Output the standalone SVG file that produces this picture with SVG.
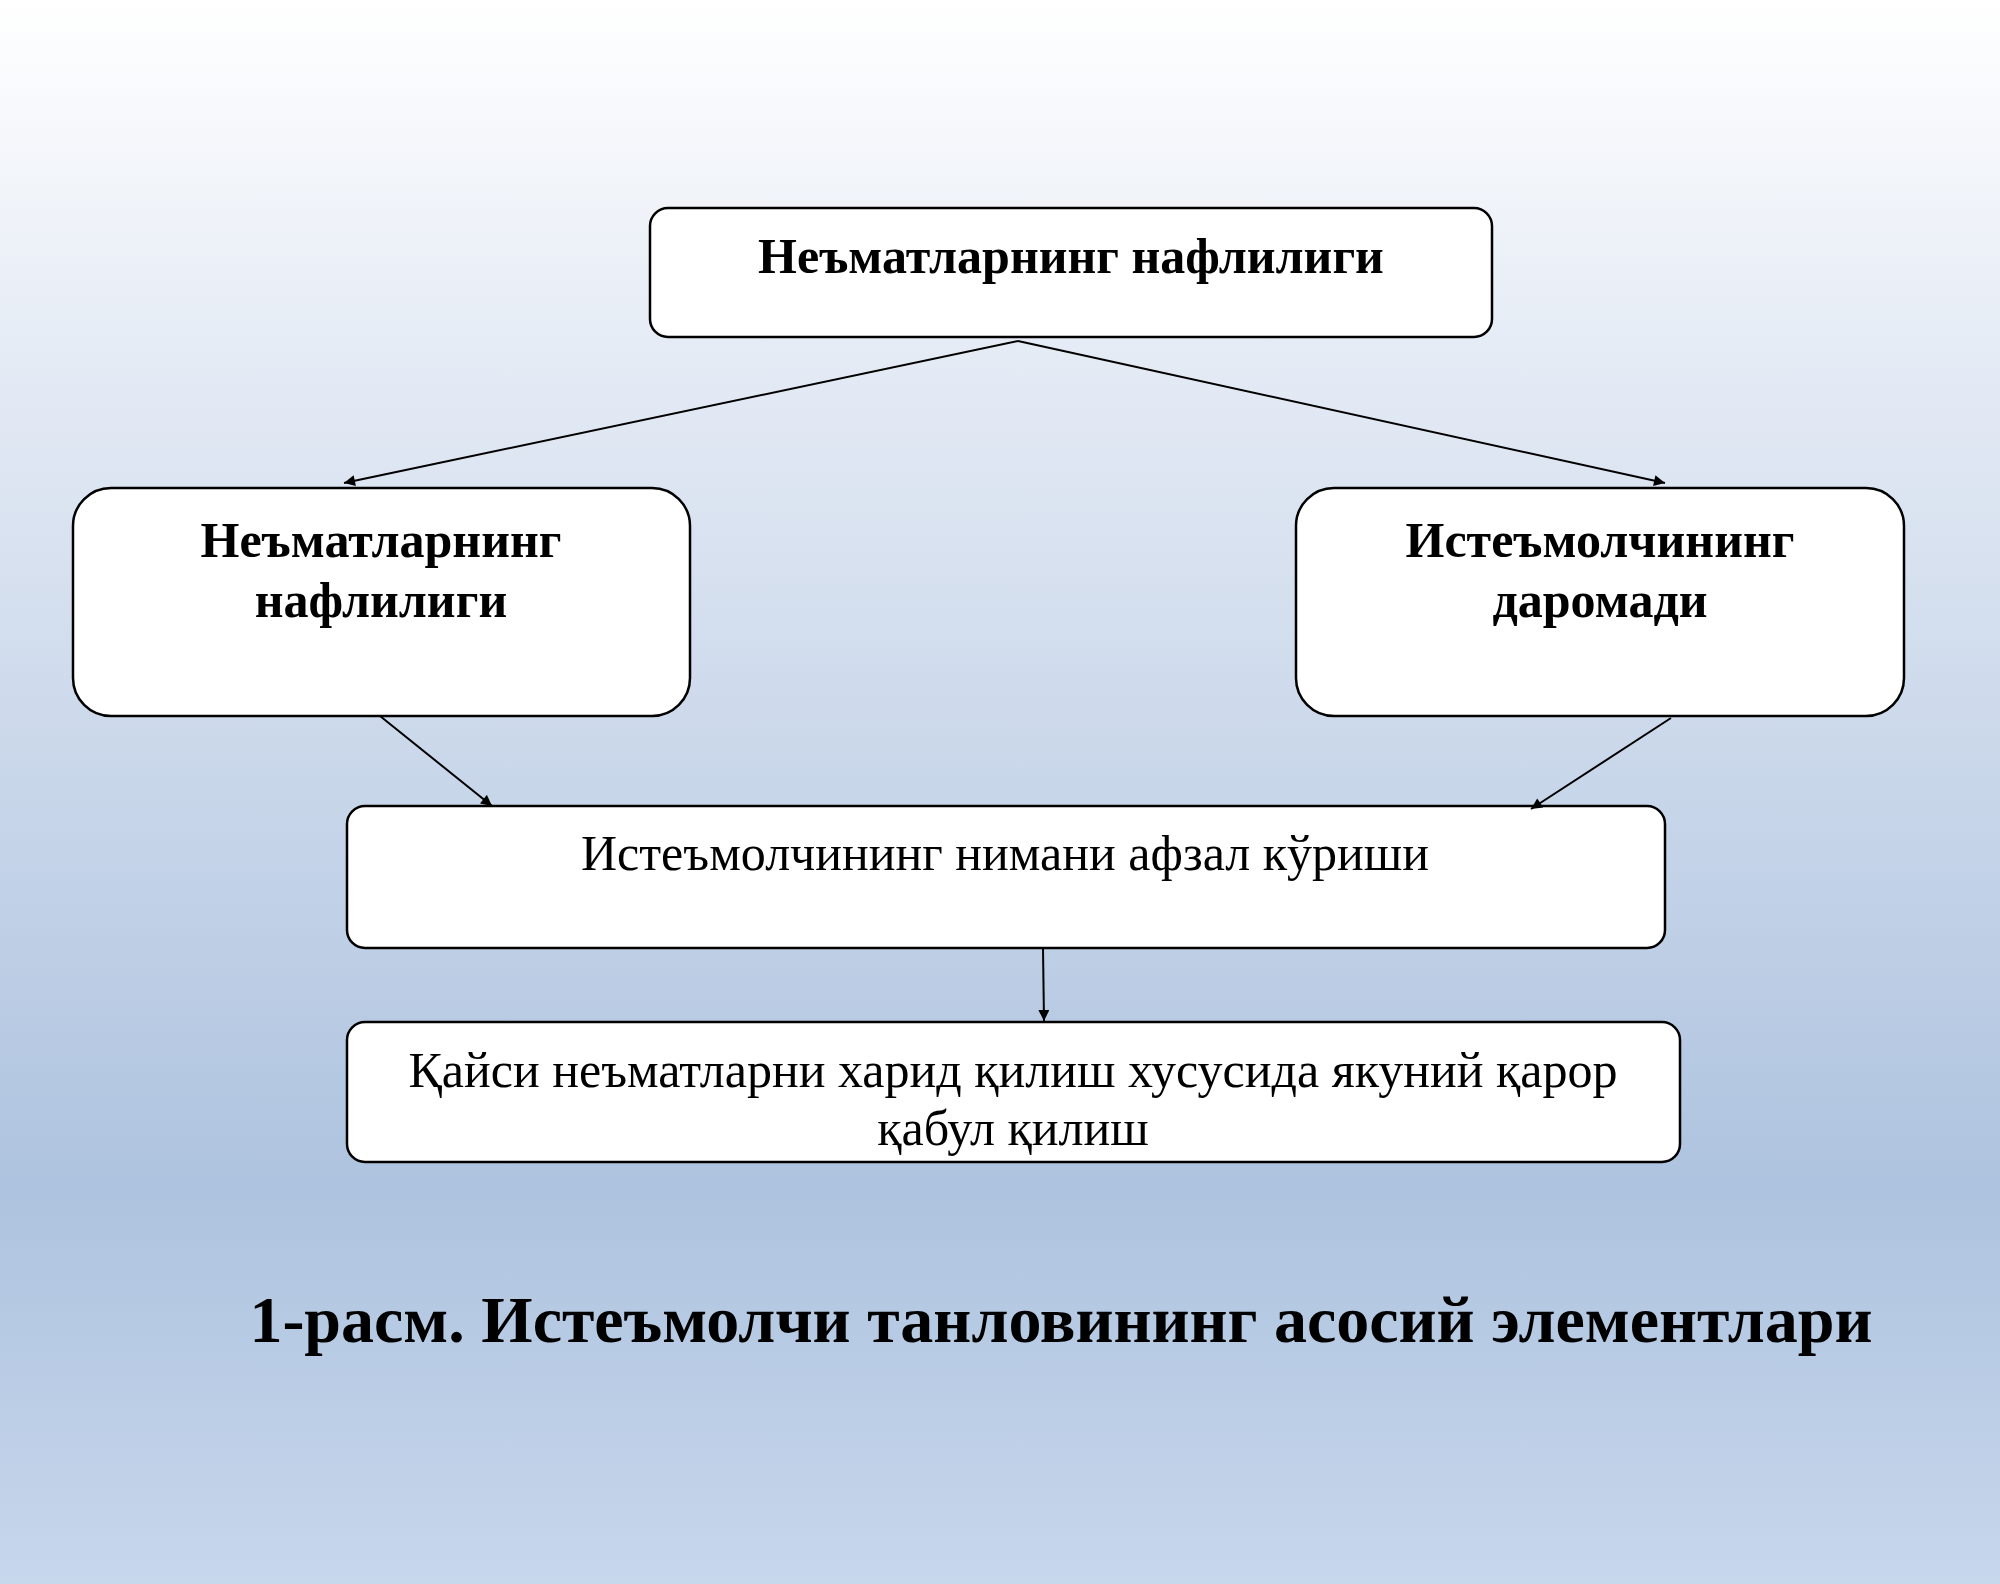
<svg xmlns="http://www.w3.org/2000/svg" width="2000" height="1584" viewBox="0 0 2000 1584">
<defs>
<linearGradient id="bg" x1="0" y1="0" x2="0" y2="1">
<stop offset="0" stop-color="#ffffff"/>
<stop offset="0.25" stop-color="#e2e9f4"/>
<stop offset="0.75" stop-color="#aec3df"/>
<stop offset="1" stop-color="#c7d7ec"/>
</linearGradient>
<marker id="ar" viewBox="0 0 10 10" refX="10" refY="5" markerWidth="13" markerHeight="11" orient="auto" markerUnits="userSpaceOnUse"><path d="M0,0 L10,5 L0,10 z" fill="#000"/></marker>
<style>
.box{fill:#fff;stroke:#000;stroke-width:2.5}
.t{font-family:"Liberation Serif",serif;font-size:50px;text-anchor:middle;fill:#000}
.b{font-weight:bold;font-size:50px}
.c line{stroke:#000;stroke-width:2;marker-end:url(#ar)}
</style>
</defs>
<rect width="2000" height="1584" fill="url(#bg)"/>
<g id="n1"><rect class="box" x="650" y="208" width="842" height="129" rx="18"/><text class="t b" x="1071" y="273">Неъматларнинг нафлилиги</text></g>
<g id="n2"><rect class="box" x="73" y="488" width="617" height="228" rx="38"/><text class="t b" x="381" y="557">Неъматларнинг</text><text class="t b" x="381" y="617">нафлилиги</text></g>
<g id="n3"><rect class="box" x="1296" y="488" width="608" height="228" rx="38"/><text class="t b" x="1600" y="557">Истеъмолчининг</text><text class="t b" x="1600" y="617">даромади</text></g>
<g id="n4"><rect class="box" x="347" y="806" width="1318" height="142" rx="18"/><text class="t" x="1005" y="870">Истеъмолчининг нимани афзал кўриши</text></g>
<g id="n5"><rect class="box" x="347" y="1022" width="1333" height="140" rx="18"/><text class="t" x="1013" y="1087">Қайси неъматларни харид қилиш хусусида якуний қарор</text><text class="t" x="1013" y="1145">қабул қилиш</text></g>
<g class="c">
<line x1="1018" y1="341" x2="344" y2="483"/>
<line x1="1018" y1="341" x2="1665" y2="483"/>
<line x1="380" y1="716" x2="492" y2="806"/>
<line x1="1671" y1="718" x2="1531" y2="809"/>
<line x1="1043" y1="948" x2="1044" y2="1021"/>
</g>
<text class="t" x="1061" y="1342" style="font-weight:bold;font-size:66px">1-расм. Истеъмолчи танловининг асосий элементлари</text>
</svg>
